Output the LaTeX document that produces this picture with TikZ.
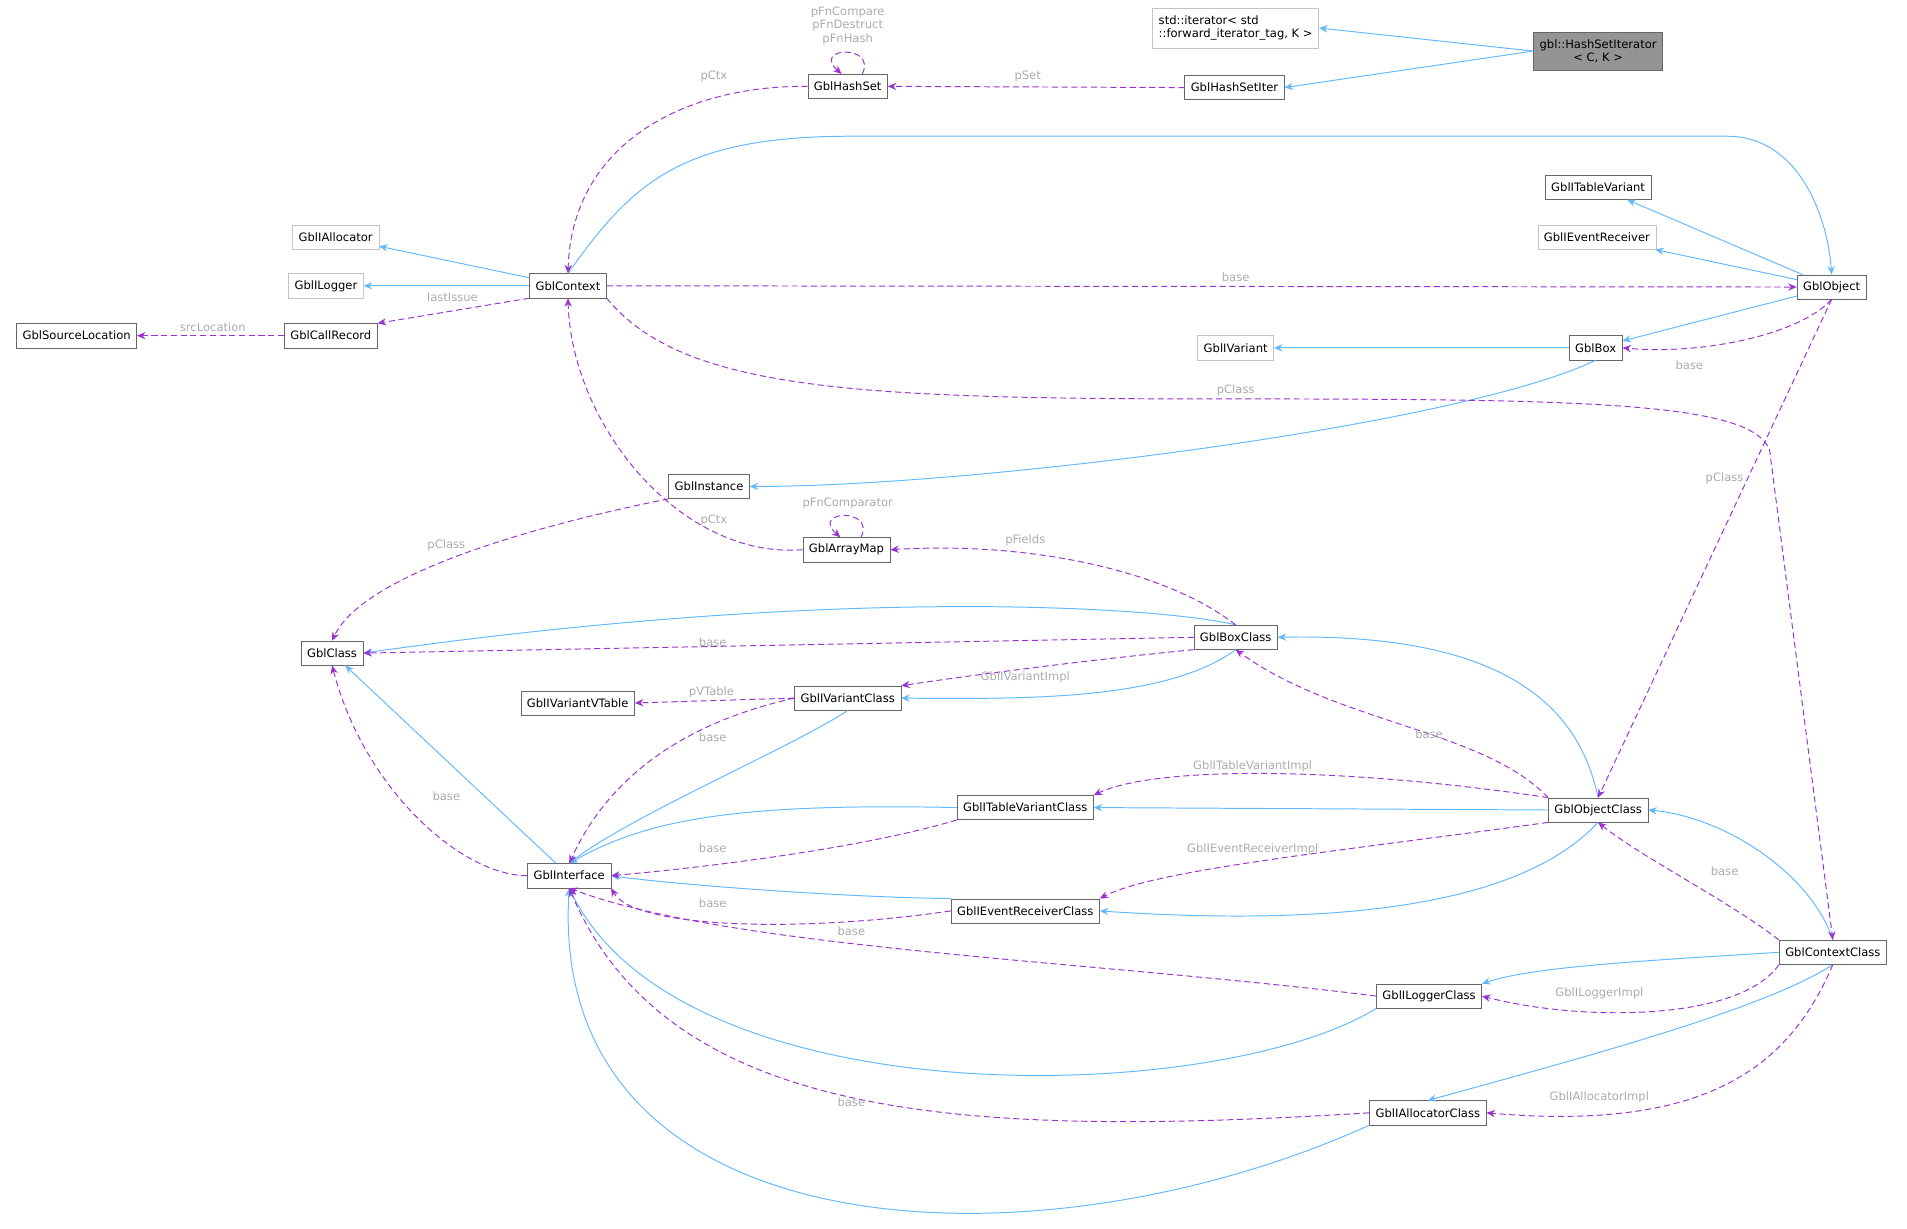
\documentclass[tikz,border=0pt]{standalone}
\usepackage{fontspec}
\setmainfont{DejaVu Sans}
\usetikzlibrary{arrows.meta}
\definecolor{inhblue}{HTML}{63B8FF}
\definecolor{usepurple}{HTML}{9A32CD}
\definecolor{lblgray}{HTML}{ABABAB}
\definecolor{boxgray}{HTML}{666666}

\begin{document}
\begin{tikzpicture}[x=1pt,y=1pt,yscale=-1,xscale=1,
  font=\fontsize{9.5}{11}\selectfont,
  cls/.style={draw=boxgray,fill=white,inner xsep=5pt,inner ysep=0pt,minimum height=20pt},
  ext/.style={cls,draw=lblgray!70},
  inh/.style={draw=inhblue,line width=0.8pt,-{Stealth[length=7pt,width=6pt]}},
  use/.style={draw=usepurple,line width=0.8pt,dash pattern=on 5pt off 3pt,-{Stealth[length=7pt,width=6pt]}},
  lbl/.style={text=lblgray,inner sep=1pt}]

\useasboundingbox (0,0) rectangle (1568,1010);

% classes
\node[cls,fill=boxgray!70,align=center,minimum height=31pt] (hsi) at (1314,42) {gbl::HashSetIterator\\< C, K >};
\node[ext,align=left,minimum height=33pt] (stditer) at (1016,23) {std::iterator< std\\::forward\_iterator\_tag, K >};
\node[cls] (hsiter) at (1015,72) {GblHashSetIter};
\node[cls] (hset) at (697,71) {GblHashSet};
\node[cls] (ctx) at (467,235) {GblContext};
\node[ext] (ialloc) at (276,195) {GblIAllocator};
\node[ext] (ilog) at (268,235) {GblILogger};
\node[cls] (callrec) at (272,276) {GblCallRecord};
\node[cls] (srcloc) at (63,276) {GblSourceLocation};
\node[cls] (obj) at (1506,236) {GblObject};
\node[cls] (itvar) at (1314,154) {GblITableVariant};
\node[ext] (ievrecv) at (1313,195) {GblIEventReceiver};
\node[cls] (box) at (1312,286) {GblBox};
\node[ext] (ivar) at (1016,286) {GblIVariant};
\node[cls] (inst) at (583,400) {GblInstance};
\node[cls] (amap) at (696,452) {GblArrayMap};
\node[cls] (cls) at (273,537) {GblClass};
\node[cls] (boxcl) at (1016,524) {GblBoxClass};
\node[cls] (ivvt) at (475,578) {GblIVariantVTable};
\node[cls] (ivarcl) at (697,574) {GblIVariantClass};
\node[cls] (itvcl) at (843,664) {GblITableVariantClass};
\node[cls] (objcl) at (1314,666) {GblObjectClass};
\node[cls] (iface) at (468,720) {GblInterface};
\node[cls] (iercl) at (843,749) {GblIEventReceiverClass};
\node[cls] (ctxcl) at (1507,783) {GblContextClass};
\node[cls] (ilogcl) at (1175,819) {GblILoggerClass};
\node[cls] (iallcl) at (1174,915) {GblIAllocatorClass};

% inheritance
\draw[inh] (hsi.west) -- (stditer.east);
\draw[inh] (hsi.west) -- (hsiter.east);
\draw[inh] (ctx.north) .. controls (520,150) and (560,112) .. (700,112) -- (1420,112) .. controls (1480,112) and (1503,180) .. (obj.north);
\draw[inh] (ctx) -- (ialloc);
\draw[inh] (ctx) -- (ilog);
\draw[inh] (obj) -- (itvar);
\draw[inh] (obj) -- (ievrecv);
\draw[inh] (obj) -- (box);
\draw[inh] (box) -- (ivar);
\draw[inh] (box.south) .. controls (1200,350) and (800,400) .. (inst.east);
\draw[inh] (boxcl.north) .. controls (960,500) and (700,480) .. (cls.east);
\draw[inh] (boxcl.south) .. controls (960,575) and (850,575) .. (ivarcl.east);
\draw[inh] (ivarcl.south) .. controls (650,615) and (520,670) .. (iface.north);
\draw[inh] (iface) -- (cls);
\draw[inh] (itvcl.west) .. controls (600,660) and (530,675) .. (iface.north);
\draw[inh] (iercl.north west) .. controls (700,738) and (560,728) .. (iface.east);
\draw[inh] (objcl.north) .. controls (1300,590) and (1250,520) .. (boxcl.east);
\draw[inh] (objcl.west) -- (itvcl.east);
\draw[inh] (objcl.south) .. controls (1250,745) and (1100,762) .. (iercl.east);
\draw[inh] (ctxcl.north) .. controls (1490,720) and (1420,672) .. (objcl.east);
\draw[inh] (ctxcl.west) .. controls (1350,790) and (1260,795) .. (ilogcl.north east);
\draw[inh] (ctxcl.south) .. controls (1450,830) and (1300,870) .. (iallcl.north);
\draw[inh] (ilogcl.south west) .. controls (1000,910) and (560,920) .. (iface.south);
\draw[inh] (iallcl.south west) .. controls (850,1050) and (450,1030) .. (iface.south);

% usage
\draw[use] (hsiter.west) -- (hset.east);
\draw[use] (hset.west) .. controls (560,70) and (470,120) .. (ctx.north);
\draw[use] ([xshift=12pt]hset.north) .. controls +(12,-25) and +(-25,-22) .. ([xshift=-5pt]hset.north);
\draw[use] (ctx.south west) -- (callrec.north east);
\draw[use] (callrec) -- (srcloc);
\draw[use] (ctx.east) -- (obj.west);
\draw[use] (obj.south) .. controls (1480,275) and (1400,292) .. (box.east);
\draw[use] (ctx.south east) .. controls (560,320) and (700,328) .. (1000,328) .. controls (1300,328) and (1440,330) .. (1455,370) -- (ctxcl.north);
\draw[use] (obj.south) -- (objcl.north);
\draw[use] (inst.south west) .. controls (450,430) and (300,470) .. (cls.north);
\draw[use] (amap.west) .. controls (560,460) and (470,350) .. (ctx.south);
\draw[use] ([xshift=12pt]amap.north) .. controls +(12,-25) and +(-25,-22) .. ([xshift=-5pt]amap.north);
\draw[use] (boxcl.north) .. controls (960,470) and (850,445) .. (amap.east);
\draw[use] (boxcl.west) -- (cls.east);
\draw[use] (boxcl.south west) .. controls (900,542) and (800,555) .. (ivarcl.north east);
\draw[use] (ivarcl.west) -- (ivvt.east);
\draw[use] (ivarcl.west) .. controls (560,595) and (500,640) .. (iface.north);
\draw[use] (iface.west) .. controls (380,720) and (300,650) .. (cls.south);
\draw[use] (itvcl.south west) .. controls (700,700) and (560,715) .. (iface.east);
\draw[use] (iercl.west) .. controls (650,768) and (520,762) .. (iface.south east);
\draw[use] (objcl.north west) .. controls (1220,600) and (1100,595) .. (boxcl.south);
\draw[use] (objcl.north west) .. controls (1100,630) and (950,630) .. (itvcl.north east);
\draw[use] (objcl.south west) .. controls (1100,700) and (950,715) .. (iercl.north east);
\draw[use] (ctxcl.north west) .. controls (1420,740) and (1350,705) .. (objcl.south);
\draw[use] (ctxcl.south west) .. controls (1430,840) and (1300,840) .. (ilogcl.east);
\draw[use] (ctxcl.south) .. controls (1470,880) and (1400,930) .. (iallcl.east);
\draw[use] (ilogcl.west) .. controls (900,790) and (600,780) .. (iface.south);
\draw[use] (iallcl.west) .. controls (800,935) and (550,925) .. (iface.south);

% labels
\node[lbl,align=center] (lbHash) at (697,21) {pFnCompare\\pFnDestruct\\pFnHash};
\node[lbl] (lbPSet) at (845,63) {pSet};
\node[lbl] (lbCtxA) at (587,63) {pCtx};
\node[lbl] (lbIssue) at (372,244) {lastIssue};
\node[lbl] (lbSrc) at (175,269) {srcLocation};
\node[lbl] (lbBaseA) at (1016,228) {base};
\node[lbl] (lbBaseB) at (1389,300) {base};
\node[lbl] (lbClsA) at (1016,321) {pClass};
\node[lbl] (lbClsB) at (1418,393) {pClass};
\node[lbl] (lbClsC) at (367,448) {pClass};
\node[lbl] (lbCtxB) at (587,428) {pCtx};
\node[lbl] (lbCmp) at (697,414) {pFnComparator};
\node[lbl] (lbFields) at (843,444) {pFields};
\node[lbl] (lbBaseC) at (586,528) {base};
\node[lbl] (lbIvImpl) at (843,557) {GblIVariantImpl};
\node[lbl] (lbVT) at (585,569) {pVTable};
\node[lbl] (lbBaseD) at (586,606) {base};
\node[lbl] (lbBaseE) at (367,655) {base};
\node[lbl] (lbBaseF) at (586,697) {base};
\node[lbl] (lbBaseG) at (586,743) {base};
\node[lbl] (lbBaseH) at (1175,604) {base};
\node[lbl] (lbTvImpl) at (1030,630) {GblITableVariantImpl};
\node[lbl] (lbErImpl) at (1030,698) {GblIEventReceiverImpl};
\node[lbl] (lbBaseI) at (1418,716) {base};
\node[lbl] (lbLogImpl) at (1315,817) {GblILoggerImpl};
\node[lbl] (lbAlImpl) at (1315,902) {GblIAllocatorImpl};
\node[lbl] (lbBaseJ) at (700,766) {base};
\node[lbl] (lbBaseK) at (700,906) {base};

\end{tikzpicture}
\end{document}
